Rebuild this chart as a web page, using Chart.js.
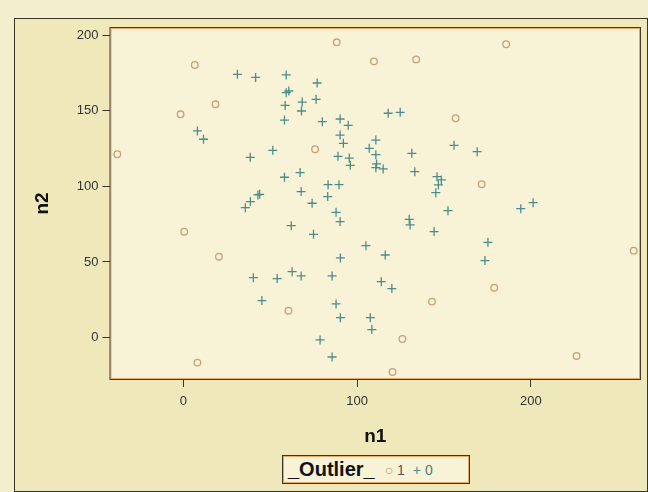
<!DOCTYPE html>
<html>
<head>
<meta charset="utf-8">
<script src="https://cdn.jsdelivr.net/npm/chart.js@4.4.1/dist/chart.umd.min.js"></script>
<style>
  html, body { margin: 0; padding: 0; background: #f3eecc; }
  #wrap { position: relative; width: 648px; height: 492px; }
  #legend {
    position: absolute; left: 282px; top: 455px; width: 186px; height: 27px;
    border: 1px solid #3c3428; box-shadow: inset 0 0 0 1px #eaa868;
    background: #f8f2d6; font-family: "Liberation Sans", Arial, sans-serif;
    display: flex; align-items: center; box-sizing: content-box;
  }
  #legend .ttl { font-weight: bold; font-size: 20px; color: #111; margin-left: 5px; }
  #legend .it { font-size: 14px; margin-left: 10px; color: #555; }
  #legend .it.p { color: #4d8c8c; margin-left: 8px; }
  #legend .it span { color: #555; }
</style>
</head>
<body>
<div id="wrap">
  <canvas id="chart" width="648" height="492"></canvas>
  <div id="legend">
    <span class="ttl">_Outlier_</span>
    <span class="it" style="color:#b89a78">&#9675; <span>1</span></span>
    <span class="it p">+ <span style="color:#4d7c7c">0</span></span>
  </div>
</div>
<script>
// data
const outlierX = [6.6, -1.6, 18.5, -38, 0.5, 20.5, 8.1, 88.3, 109.7, 134.0, 156.7, 75.8, 185.8, 171.7, 60.5, 143.1, 126.1, 120.4, 178.9, 259.2, 226.3];
const outlierY = [180.2, 147.6, 154.2, 121.2, 70.0, 53.5, -16.5, 195.2, 182.6, 183.9, 145.0, 124.5, 193.9, 101.4, 17.8, 23.8, -0.9, -22.7, 33.0, 57.5, -12.1];

const normalX = [31.1, 41.6, 8.1, 11.6, 38.5, 35.7, 38.6, 42.9, 40.3,
  59.2, 77.0, 60.7, 59.2, 68.4, 76.4, 58.6, 68.0, 58.2, 80.0, 90.2, 94.9, 117.9, 124.8, 90.2, 92.1, 110.8, 107.0, 110.8, 131.5, 155.8,
  51.5, 89.0, 95.5, 96.1, 111.2, 110.8, 115.0, 133.2, 58.2, 67.2, 146.0, 148.5, 146.8, 145.3, 83.3, 89.6, 67.8, 83.1, 43.9,
  169.1, 74.1, 87.9, 90.2, 62.1, 74.9, 130.0, 130.5, 144.3, 152.3, 105.1, 116.2, 90.4, 54.0, 62.6, 67.8, 85.6, 113.9, 120.0,
  45.2, 87.9, 90.4, 107.6, 108.5, 78.7, 85.6, 194.2, 201.3, 175.3, 173.6];
const normalY = [174.0, 172.0, 136.6, 131.1, 119.2, 85.9, 89.9, 94.3, 39.6,
  173.6, 168.3, 163.0, 161.9, 155.7, 157.5, 153.5, 149.8, 143.8, 142.7, 144.5, 140.3, 148.3, 148.9, 133.9, 128.4, 130.6, 125.1, 120.9, 121.8, 127.1,
  123.8, 119.8, 118.7, 113.9, 114.8, 112.3, 111.5, 109.7, 106.0, 109.1, 106.4, 104.2, 100.9, 95.8, 101.1, 101.1, 96.5, 93.2, 94.7,
  122.9, 88.8, 82.8, 76.7, 74.0, 68.3, 78.2, 74.5, 70.1, 83.9, 60.8, 54.6, 52.7, 39.0, 43.6, 40.8, 40.8, 37.0, 32.4,
  24.5, 22.3, 13.2, 13.2, 5.3, -1.5, -12.8, 85.2, 89.2, 63.0, 50.9];

const xTicks = [0, 100, 200];
const yTicks = [0, 50, 100, 150, 200];

function toPoints(xs, ys) {
  return xs.map((x, i) => ({ x: x, y: ys[i] }));
}

// background panel, plot fill and plot frame
const framePlugin = {
  id: 'frame',
  beforeDraw(chart) {
    const ctx = chart.ctx;
    const a = chart.chartArea;
    ctx.save();
    ctx.fillStyle = '#f3eecc';
    ctx.fillRect(0, 0, chart.width, chart.height);
    ctx.fillStyle = '#eee8bb';
    ctx.fillRect(14, 18, chart.width - 14, chart.height - 18);
    ctx.strokeStyle = '#3c3428';
    ctx.lineWidth = 1;
    ctx.strokeRect(14.5, 18.5, chart.width - 15, chart.height - 19);
    ctx.fillStyle = '#f8f2d6';
    ctx.fillRect(a.left, a.top, a.right - a.left, a.bottom - a.top);
    ctx.restore();
  },
  afterDraw(chart) {
    const ctx = chart.ctx;
    const a = chart.chartArea;
    ctx.save();
    ctx.strokeStyle = '#eaa868';
    ctx.lineWidth = 1;
    ctx.strokeRect(a.left + 1.5, a.top + 1.5, a.right - a.left - 3, a.bottom - a.top - 3);
    ctx.strokeStyle = '#4a3828';
    ctx.strokeRect(a.left + 0.5, a.top + 0.5, a.right - a.left - 1, a.bottom - a.top - 1);
    ctx.restore();
  }
};

const tickFont = { family: "'Liberation Sans', Arial, sans-serif", size: 13 };
const titleFont = { family: "'Liberation Sans', Arial, sans-serif", size: 19, weight: 'bold' };

new Chart(document.getElementById('chart'), {
  type: 'scatter',
  data: {
    datasets: [
      {
        label: '1',
        data: toPoints(outlierX, outlierY),
        pointStyle: 'circle',
        pointRadius: 3.3,
        borderColor: '#c9a077',
        backgroundColor: 'rgba(0,0,0,0)',
        borderWidth: 1.3
      },
      {
        label: '0',
        data: toPoints(normalX, normalY),
        pointStyle: 'cross',
        pointRadius: 4.5,
        borderColor: '#4d8c8c',
        backgroundColor: '#4d8c8c',
        borderWidth: 1.3
      }
    ]
  },
  options: {
    responsive: false,
    animation: false,
    events: [],
    layout: { padding: { left: 14, right: 7, top: 27, bottom: 40 } },
    plugins: { legend: { display: false }, tooltip: { enabled: false } },
    scales: {
      x: {
        type: 'linear',
        min: -42.5,
        max: 263.4,
        afterBuildTicks: s => { s.ticks = xTicks.map(v => ({ value: v })); },
        afterFit: s => { s.height = 72; },
        border: { display: false },
        grid: { drawOnChartArea: false, drawTicks: true, tickLength: 7, color: '#3c3428' },
        ticks: { color: '#333', font: tickFont, padding: 7, maxRotation: 0 },
        title: { display: true, text: 'n1', color: '#111', font: titleFont, padding: { top: 0, bottom: 4 } }
      },
      y: {
        type: 'linear',
        min: -28,
        max: 205.3,
        afterBuildTicks: s => { s.ticks = yTicks.map(v => ({ value: v })); },
        afterFit: s => { s.width = 95.5; },
        border: { display: false },
        grid: { drawOnChartArea: false, drawTicks: true, tickLength: 7, color: '#3c3428' },
        ticks: { color: '#333', font: tickFont, padding: 4 },
        title: { display: true, text: 'n2', color: '#111', font: titleFont, padding: { top: 17, bottom: 0 } }
      }
    }
  },
  plugins: [framePlugin]
});
</script>
</body>
</html>
